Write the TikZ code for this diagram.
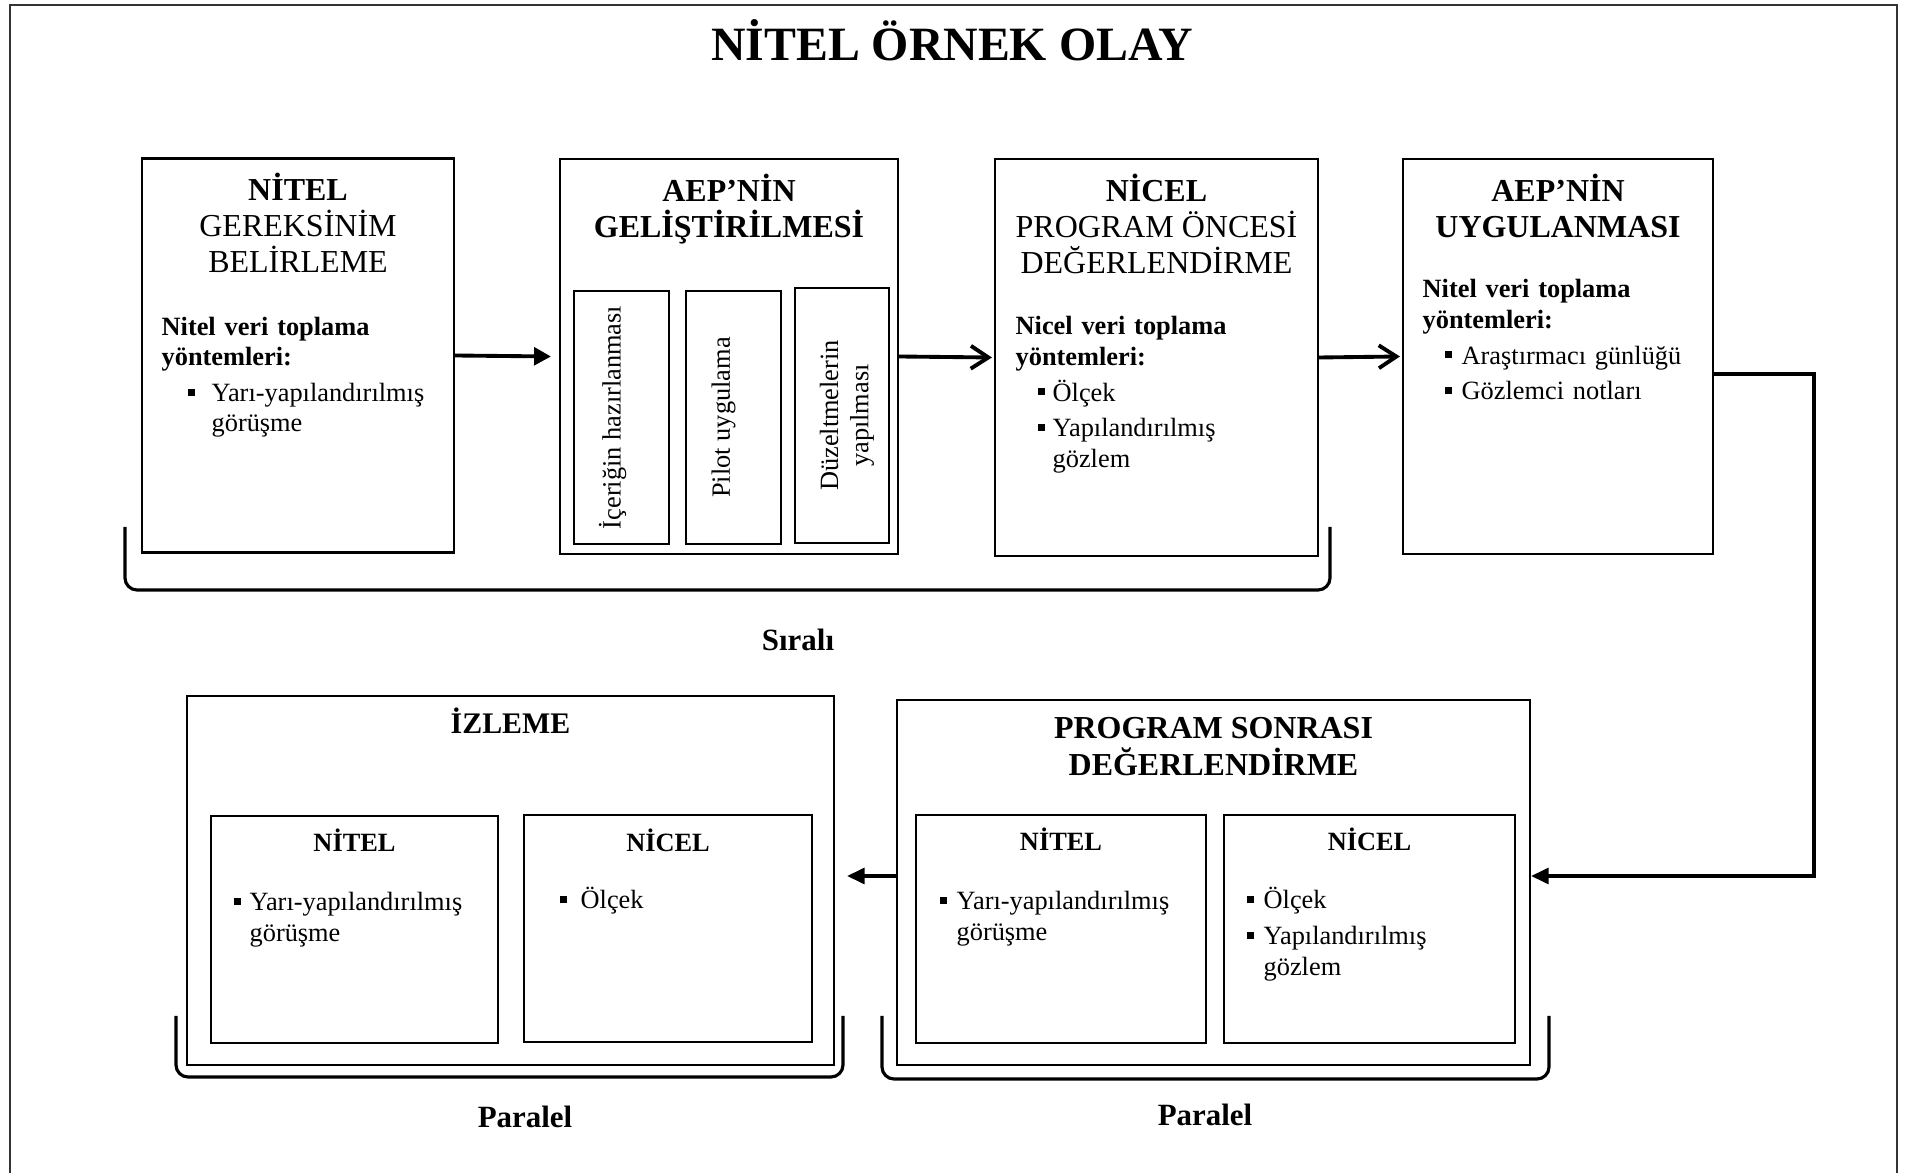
\documentclass[tikz,border=0pt]{standalone}
\usepackage{fontspec}
\setmainfont{Liberation Serif}
\usetikzlibrary{arrows.meta, positioning, calc}
\newcommand{\hfont}{\fontsize{9.1}{10.3}\selectfont}
\newcommand{\pfont}{\fontsize{9.1}{10.5}\selectfont\bfseries}
\newcommand{\bfont}{\fontsize{7.5}{8.6}\selectfont}
\newcommand{\sq}{\rule[0.22em]{0.26em}{0.26em}}
\newcommand{\itm}[2][0.09cm]{\noindent\llap{\sq\hspace{#1}}#2\par}
\tikzset{
  % plain black box
  BX/.style={rectangle,draw=black,line width=0.6pt,inner sep=0pt},
  % rotated step label
  SL/.style={rotate=90,font=\bfont,align=center,inner sep=0pt},
  % box heading
  HD/.style={font=\hfont,align=center,inner sep=0pt},
  % left aligned box text
  TX/.style={font=\bfont\setlength{\parskip}{1.6pt},text width=#1,
             align=left,inner sep=0pt},
  TX/.default=2.8cm,
  % brace under a group
  BR/.style={line width=0.9pt,rounded corners=0.12cm},
  LB/.style={font=\fontsize{8.8}{10}\selectfont\bfseries,anchor=base},
  % arrows
  Arr/.style ={-{Triangle[length=4.8pt,width=5pt]},line width=1.1pt},
  OArr/.style={-{Straight Barb[length=5pt,width=6.5pt]},line width=1.1pt},
  TArr/.style={-{Triangle[length=5pt,width=4.5pt]},line width=1pt},
}
\begin{document}
\begin{tikzpicture}
  \useasboundingbox (0,0) rectangle (19.08,-11.73);
  % page frame
  \draw[line width=0.8pt,black!80] (0.10,-11.9) |- (18.97,-0.05) -- (18.97,-11.9);
  \node[font=\fontsize{13.6}{16}\selectfont\bfseries,anchor=base]
        (title) at (9.52,-0.61) {NİTEL ÖRNEK OLAY};

  % first row -- sequential steps
  \node[BX,minimum width=3.12cm,minimum height=3.94cm] (need)  at (2.98,-3.555) {};
  \node[BX,minimum width=3.38cm,minimum height=3.95cm] (dev)   at (7.29,-3.565) {};
  \node[BX,minimum width=3.23cm,minimum height=3.97cm] (pre)   at (11.565,-3.575) {};
  \node[BX,minimum width=3.10cm,minimum height=3.95cm] (apply) at (15.58,-3.565) {};

  \node[HD,below=0.15cm of need.north] (needh)
        {\textbf{NİTEL}\\GEREKSİNİM\\BELİRLEME};
  \node[TX=2.9cm,below right=1.59cm and 0.20cm of need.north west] (needt)
        {\textbf{Nitel veri toplama\newline yöntemleri:}\par
         \leftskip=0.50cm \itm[0.17cm]{Yarı-yapılandırılmış\newline görüşme}};

  \node[HD,font=\hfont\bfseries,below=0.15cm of dev.north] (devh)
        {AEP’NİN\\GELİŞTİRİLMESİ};
  \node[BX,minimum width=0.95cm,minimum height=2.53cm] (s1) at (6.215,-4.175) {};
  \node[BX,minimum width=0.95cm,minimum height=2.53cm] (s2) at (7.335,-4.175) {};
  \node[BX,minimum width=0.94cm,minimum height=2.55cm] (s3) at (8.42,-4.155) {};
  \node[SL] (s1t) at ([xshift=-0.09cm]s1.center) {İçeriğin hazırlanması};
  \node[SL] (s2t) at ([xshift=-0.10cm]s2.center) {Pilot uygulama};
  \node[SL] (s3t) at ([xshift=0.05cm]s3.center) {Düzeltmelerin\\yapılması};

  \node[HD,below=0.15cm of pre.north] (preh)
        {\textbf{NİCEL}\\PROGRAM ÖNCESİ\\DEĞERLENDİRME};
  \node[TX=2.9cm,below right=1.58cm and 0.21cm of pre.north west] (pret)
        {\textbf{Nicel veri toplama\newline yöntemleri:}\par
         \leftskip=0.37cm \itm[0.08cm]{Ölçek}\itm[0.08cm]{Yapılandırılmış\newline gözlem}};

  \node[HD,font=\hfont\bfseries,below=0.15cm of apply.north] (applyh)
        {AEP’NİN\\UYGULANMASI};
  \node[TX=2.8cm,below right=1.21cm and 0.20cm of apply.north west] (applyt)
        {\textbf{Nitel veri toplama\newline yöntemleri:}\par
         \leftskip=0.39cm \itm[0.10cm]{Araştırmacı günlüğü}\itm[0.10cm]{Gözlemci notları}};

  \draw[Arr]  (need.east) -- ([xshift=-0.08cm]dev.west);
  \draw[OArr] (dev.east)  -- ([xshift=-0.02cm]pre.west);
  \draw[OArr] (pre.east)  -- ([xshift=-0.02cm]apply.west);

  \draw[BR] (1.25,-5.27) -- (1.25,-5.90) -- (13.30,-5.90) -- (13.30,-5.27);
  \node[LB] (seq) at (7.98,-6.51) {Sıralı};

  % second row -- parallel parts
  \node[BX,minimum width=6.47cm,minimum height=3.69cm] (izle)  at (5.105,-8.805) {};
  \node[BX,minimum width=2.87cm,minimum height=2.27cm] (iznit) at (3.545,-9.295) {};
  \node[BX,minimum width=2.88cm,minimum height=2.27cm] (iznic) at (6.68,-9.285) {};
  \node[BX,minimum width=6.33cm,minimum height=3.65cm] (post)  at (12.135,-8.825) {};
  \node[BX,minimum width=2.90cm,minimum height=2.28cm] (psnit) at (10.61,-9.29) {};
  \node[BX,minimum width=2.91cm,minimum height=2.28cm] (psnic) at (13.695,-9.29) {};

  \node[font=\fontsize{8.5}{10}\selectfont\bfseries,anchor=base] (izleh)
        at (5.105,-7.34) {İZLEME};
  \node[HD,font=\pfont,below=0.18cm of post.north] (posth)
        {PROGRAM SONRASI\\DEĞERLENDİRME};

  \node[font=\bfont\bfseries,anchor=base] (iznith) at (3.545,-8.52) {NİTEL};
  \node[font=\bfont\bfseries,anchor=base] (iznich) at (6.68,-8.52)  {NİCEL};
  \node[font=\bfont\bfseries,anchor=base] (psnith) at (10.61,-8.51) {NİTEL};
  \node[font=\bfont\bfseries,anchor=base] (psnich) at (13.695,-8.51) {NİCEL};

  \node[TX=2.4cm,below right=0.77cm and 0.39cm of iznit.north west] (iznitt)
        {\itm[0.09cm]{Yarı-yapılandırılmış\newline görüşme}};
  \node[TX=2.2cm,below right=0.73cm and 0.57cm of iznic.north west] (iznict)
        {\itm[0.14cm]{Ölçek}};
  \node[TX=2.4cm,below right=0.77cm and 0.41cm of psnit.north west] (psnitt)
        {\itm[0.10cm]{Yarı-yapılandırılmış\newline görüşme}};
  \node[TX=2.4cm,below right=0.73cm and 0.40cm of psnic.north west] (psnict)
        {\itm[0.10cm]{Ölçek}\itm[0.10cm]{Yapılandırılmış\newline gözlem}};

  \draw[BR] (1.76,-10.16) -- (1.76,-10.77) -- (8.43,-10.77) -- (8.43,-10.16);
  \draw[BR] (8.82,-10.16) -- (8.82,-10.79) -- (15.49,-10.79) -- (15.49,-10.16);
  \node[LB] (par1) at (5.25,-11.27) {Paralel};
  \node[LB] (par2) at (12.05,-11.25) {Paralel};

  % flow into the second row
  \coordinate (psin) at ([yshift=0.065cm]post.west);
  \draw[TArr] ([yshift=-0.175cm]apply.east) -- ++(1.0,0) |- ([yshift=0.065cm]post.east);
  \draw[TArr] (psin) -- ($(psin -| izle.east)+(0.12,0)$);
\end{tikzpicture}
\end{document}
